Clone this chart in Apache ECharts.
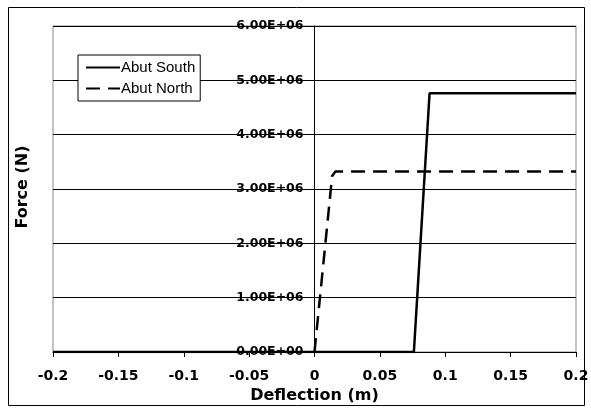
<!DOCTYPE html>
<html><head><meta charset="utf-8">
<script src="https://cdn.jsdelivr.net/npm/echarts@6/dist/echarts.min.js"></script>
<style>html,body{margin:0;padding:0;background:#fff}#c{width:591px;height:415px}</style>
</head><body><div id="c"></div>
<script>
const seriesNames = ['Abut South', 'Abut North'];
const southX = [-0.2, 0.076, 0.088, 0.2];
const southY = [0, 0, 4.76e6, 4.76e6];
const northX = [0, 0.0135, 0.016, 0.2];
const northY = [0, 3.24e6, 3.32e6, 3.32e6];
const xTicks = [-0.2, -0.15, -0.1, -0.05, 0, 0.05, 0.1, 0.15, 0.2];
const yTicks = [0, 1e6, 2e6, 3e6, 4e6, 5e6, 6e6];

const axFont = 'DejaVu Sans, sans-serif';
const lgFont = 'Liberation Sans, Arial, sans-serif';
const G = {left: 53, right: 15, top: 26, bottom: 63};
const plotW = 591 - G.left - G.right;
const zeroOffset = -plotW * (0 - xTicks[0]) / (xTicks[xTicks.length - 1] - xTicks[0]);

const chart = echarts.init(document.getElementById('c'));
chart.setOption({
  animation: false,
  backgroundColor: '#fff',
  graphic: [
    {type: 'rect', shape: {x: 8.5, y: 7.5, width: 576, height: 398}, style: {fill: 'none', stroke: '#000', lineWidth: 1}, z: -1},
    {type: 'text', x: 23, y: 187, rotation: Math.PI / 2, style: {text: 'Force (N)', fill: '#000', font: 'bold 16px ' + axFont, align: 'center', verticalAlign: 'middle'}}
  ],
  grid: {left: G.left, right: G.right, top: G.top, bottom: G.bottom, show: true, borderColor: '#888', borderWidth: 1,
    containLabel: false, outerBoundsMode: 'none'},
  legend: {
    orient: 'vertical', left: 78, top: 55,
    data: seriesNames,
    backgroundColor: '#fff', borderColor: '#000', borderWidth: 1,
    padding: [5, 5, 5, 7], itemGap: 6, itemWidth: 34, itemHeight: 16,
    itemStyle: {opacity: 0},
    textStyle: {fontFamily: lgFont, fontSize: 15, color: '#000', padding: [0, 0, 0, -4]}
  },
  xAxis: {
    type: 'value', min: xTicks[0], max: xTicks[xTicks.length - 1], interval: 0.05,
    axisLine: {onZero: true, lineStyle: {color: '#000', width: 1}},
    axisTick: {show: true, length: 5, lineStyle: {color: '#000'}},
    splitLine: {show: false},
    axisLabel: {color: '#000', fontFamily: axFont, fontSize: 14, fontWeight: 'bold', margin: 17,
      formatter: v => String(Math.round(v * 100) / 100)},
    name: 'Deflection (m)', nameLocation: 'middle', nameGap: 36,
    nameTextStyle: {color: '#000', fontFamily: axFont, fontSize: 16, fontWeight: 'bold'}
  },
  yAxis: {
    type: 'value', min: yTicks[0], max: yTicks[yTicks.length - 1], interval: 1e6,
    offset: zeroOffset,
    axisLine: {show: true, onZero: false, lineStyle: {color: '#000', width: 1}},
    axisTick: {show: false},
    splitLine: {show: true, lineStyle: {color: '#000', width: 1}},
    axisLabel: {color: '#000', fontFamily: axFont, fontSize: 12.5, fontWeight: 'bold', margin: 11,
      formatter: v => v === 0 ? '0.00E+00' : (v / 1e6).toFixed(2) + 'E+06'}
  },
  series: [
    {name: seriesNames[0], type: 'line', symbol: 'none', data: southX.map((x, i) => [x, southY[i]]),
      lineStyle: {color: '#000', width: 2.5}, itemStyle: {color: '#000'}},
    {name: seriesNames[1], type: 'line', symbol: 'none', data: northX.map((x, i) => [x, northY[i]]),
      lineStyle: {color: '#000', width: 2.5, type: [14, 8]}, itemStyle: {color: '#000'}}
  ]
});
</script></body></html>
